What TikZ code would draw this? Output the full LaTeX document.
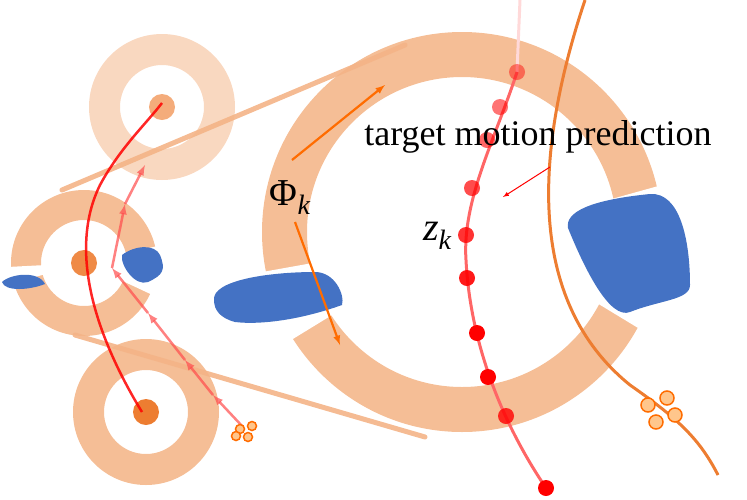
\documentclass[tikz,border=0pt]{standalone}
\usepackage{fontspec}
\setmainfont{Liberation Serif}
\usetikzlibrary{calc}
\begin{document}
\begin{tikzpicture}[x=1pt,y=-1pt,
  phiarr/.style={->,>=latex,line width=2.2pt,color=orange!85!red},
  redarr/.style={->,>=latex,line width=2.5pt,color=red!70,opacity=0.7},
  petal/.style={circle,draw=orange!85!red,line width=1.5pt,fill=orange!45!white,inner sep=0pt,minimum size=9pt}]
\definecolor{ringcol}{RGB}{245,190,150}
\definecolor{blobcol}{RGB}{68,114,196}
\definecolor{orl}{RGB}{237,125,49}
\newcommand{\gapwedge}[5]{% cx cy a1 a2 r
  \fill[white] (#1,#2) -- ({#1+#5*cos(#3)},{#2-#5*sin(#3)}) -- ({#1+#5*cos((#3+#4)/2)},{#2-#5*sin((#3+#4)/2)}) -- ({#1+#5*cos(#4)},{#2-#5*sin(#4)}) -- cycle;}
\useasboundingbox (0,0) rectangle (747,499);
% big ring with gaps
\fill[ringcol,even odd rule] (462,232) circle (200) (462,232) circle (155);
\fill[white] (240,276) -- (335,259) -- (362,300) -- (350,304) -- (270,353) -- (240,340) -- cycle;
\fill[white] (590,205) -- (680,180) -- (700,340) -- (648,334) -- (592,300) -- cycle;
% small rings
\fill[ringcol,opacity=0.6,even odd rule] (162,107) circle (73) (162,107) circle (42);
\fill[ringcol,even odd rule] (84,263) circle (73) (84,263) circle (43);
\gapwedge{84}{263}{-25}{13}{90}
\gapwedge{84}{263}{183}{196}{90}
\fill[ringcol,even odd rule] (146,412) circle (73) (146,412) circle (42);
\fill[orl!80,opacity=0.8] (162,107) circle (13);
\fill[orl!90] (84,263) circle (13);
\fill[orl] (146,412) circle (13);
% blobs
\fill[blobcol] (2,282) .. controls (10,274) and (38,270) .. (45,284) .. controls (30,290) and (5,292) .. cycle;
\fill[blobcol] (122,255) .. controls (135,245) and (155,244) .. (160,255) .. controls (166,270) and (163,275) .. (148,282) .. controls (135,287) and (120,265) .. cycle;
\fill[blobcol] (214,300) .. controls (212,280) and (270,272) .. (315,272) .. controls (335,272) and (345,295) .. (342,305) .. controls (300,320) and (260,325) .. (235,322) .. controls (220,318) and (214,310) .. cycle;
\fill[blobcol] (568,228) .. controls (565,212) and (590,200) .. (650,194) .. controls (680,192) and (690,240) .. (690,285) .. controls (690,300) and (660,300) .. (630,312) .. controls (610,320) and (585,270) .. cycle;
% band lines
\draw[line width=5pt,ringcol!85!orl,line cap=round,opacity=0.9] (62,190) -- (405,45);
\draw[line width=5pt,ringcol!85!orl,line cap=round,opacity=0.9] (75,335) -- (425,437);
% left trajectory
\draw[line width=2.5pt,red,opacity=0.85] (142,412) .. controls (95,335) and (68,250) .. (100,185) .. controls (120,148) and (145,125) .. (162,103);
\draw[redarr] (243,427) -- (213,395);
\draw[redarr] (213,395) -- (185,360);
\draw[redarr] (185,360) -- (148,313);
\draw[redarr] (148,313) -- (112,268);
\draw[redarr] (112,268) -- (125,204);
\draw[redarr] (125,204) -- (145,165);
\node[petal] (p1) at (240,429) {};
\node[petal] (p2) at (252,426) {};
\node[petal] (p3) at (248,437) {};
\node[petal] (p4) at (236,436) {};
% right orange curve
\draw[line width=3pt,orl] (585,0) .. controls (535,150) and (525,300) .. (630,385) .. controls (680,420) and (700,440) .. (718,475);
\node[petal,minimum size=14pt] (q1) at (648,405) {};
\node[petal,minimum size=14pt] (q2) at (667,398) {};
\node[petal,minimum size=14pt] (q3) at (675,415) {};
\node[petal,minimum size=14pt] (q4) at (656,422) {};
% main trajectory
\draw[line width=3pt,red!15] (520,0) -- (517,72);
\draw[line width=3pt,red!60] (517,72) .. controls (495,140) and (462,200) .. (466,260) .. controls (470,340) and (500,420) .. (546,488);
\foreach \p/\o in {{517,72}/0.45,{500,107}/0.55,{487,140}/0.6,{472,188}/0.7,{466,235}/0.8,{467,278}/0.9,{477,333}/1,{488,377}/1,{506,416}/0.8,{546,488}/1}
  \fill[red,opacity=\o] (\p) circle (8);
% labels
\node (phi) at (290,198) {\fontsize{38}{38}\selectfont Φ\raisebox{-9pt}{\fontsize{28}{28}\selectfont\itshape k}};
\coordinate (pa1) at (292,160); \coordinate (pb1) at (385,85);
\coordinate (pa2) at (295,222); \coordinate (pb2) at (340,345);
\draw[phiarr] (pa1) -- (pb1);
\draw[phiarr] (pa2) -- (pb2);
\node (z) at (437,236) {\fontsize{40}{40}\selectfont\itshape z\raisebox{-9pt}{\fontsize{28}{28}\selectfont k}};
\node (tmp) at (538,137) {\fontsize{36}{36}\selectfont target motion prediction};
\coordinate (tt) at (503,197);
\draw[->,>=latex,red,line width=1pt] (550,167) -- (tt);
\end{tikzpicture}
\end{document}
